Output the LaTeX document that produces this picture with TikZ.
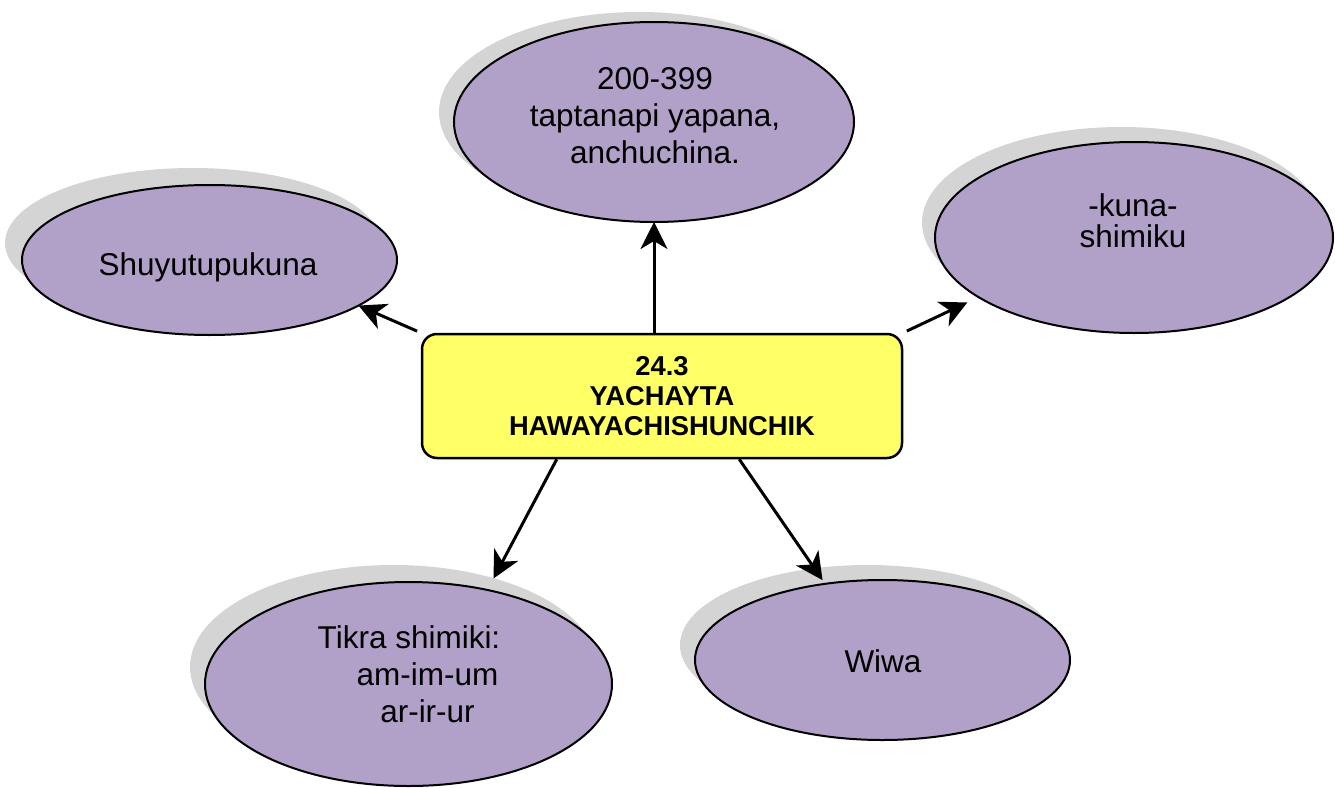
\documentclass[tikz,border=0pt]{standalone}
\usepackage{fontspec}
\setmainfont{Liberation Sans}
\usetikzlibrary{arrows.meta,shapes.geometric,shadows}
\definecolor{lav}{HTML}{B1A0C7}
\definecolor{shade}{HTML}{D4D4D4}
\definecolor{hubyellow}{HTML}{FFFF66}
\begin{document}
\begin{tikzpicture}[x=1pt,y=-1pt,
  oval/.style={ellipse, draw=black, line width=2pt, fill=lav, inner sep=0pt, outer sep=0pt},
  shad/.style 2 args={drop shadow={shadow xshift=#1, shadow yshift=#2, fill=shade, opacity=1}},
  lbl/.style={font=\fontsize{31.5}{37}\selectfont, align=center, inner sep=0pt},
  link/.style={line width=3pt, -{Stealth[length=27pt,width=27pt,inset=8pt]}},
  hub/.style={draw=black, line width=2.5pt, fill=hubyellow, rounded corners=15pt,
    minimum width=480pt, minimum height=124pt, align=center, inner sep=0pt,
    font=\bfseries\fontsize{27.3}{30}\selectfont}]
\useasboundingbox (0,0) rectangle (1335,787);

% ellipses
\node[oval, shad={-15pt}{10pt}, minimum width=400pt, minimum height=200pt] (top) at (654,122) {};
\node[oval, shad={-17pt}{17pt}, minimum width=375pt, minimum height=150pt] (left) at (209.5,260) {};
\node[oval, shad={-13pt}{15pt}, minimum width=398pt, minimum height=191pt] (right) at (1134,237.5) {};
\node[oval, shad={-15pt}{17pt}, minimum width=407pt, minimum height=204pt] (bl) at (408.5,684) {};
\node[oval, shad={-15pt}{15pt}, minimum width=375pt, minimum height=160pt] (br) at (882.5,660) {};

% texts
\node[lbl] (toptxt) at (655,116) {200-399\\taptanapi yapana,\\anchuchina.};
\node[lbl] (lefttxt) at (208,267) {Shuyutupukuna};
\node[lbl, font=\fontsize{31.5}{31}\selectfont] (righttxt) at (1133,221) {-kuna-\\shimiku};
\node[lbl] (bltxt) at (409,674) {Tikra shimiki:\\\hspace*{37pt}am-im-um\\\hspace*{37pt}ar-ir-ur};
\node[lbl] (brtxt) at (883,661) {Wiwa};

% centre
\node[hub] (hub) at (662,396) {24.3\\YACHAYTA\\HAWAYACHISHUNCHIK};

% connectors
\draw[link, shorten <=4pt] (hub.north west) -- (left.-17.6);
\draw[link] (top.south |- hub.north) -- (top.south);
\draw[link, shorten <=4pt, shorten >=12.5pt] (hub.north east) -- (right.201.9);
\draw[link, shorten >=13pt] ([xshift=136pt]hub.south west) -- (bl.50.3);
\draw[link, shorten >=4.5pt] ([xshift=-164pt]hub.south east) -- (br.127.2);
\end{tikzpicture}
\end{document}
